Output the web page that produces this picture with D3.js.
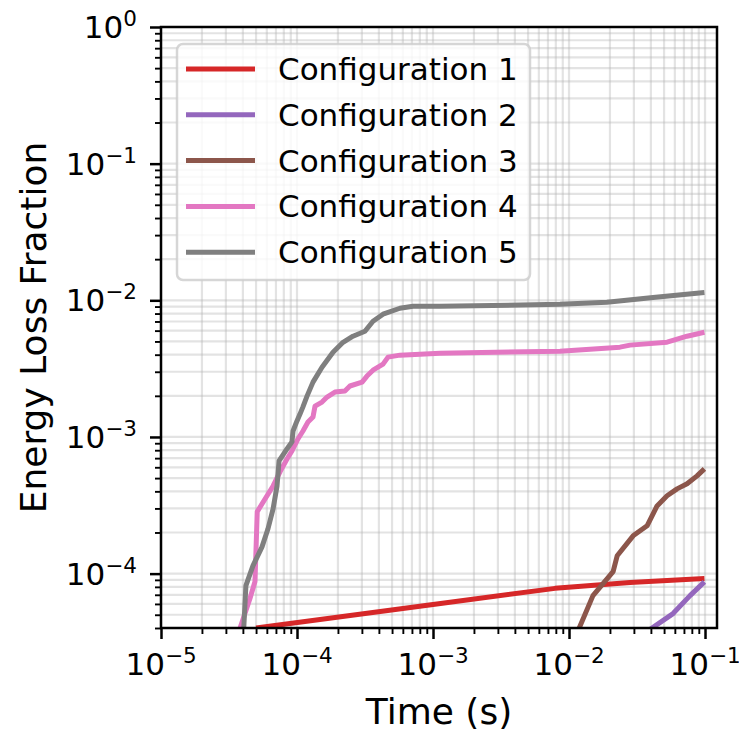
<!DOCTYPE html>
<html>
<head>
<meta charset="utf-8">
<script src="https://cdn.jsdelivr.net/npm/d3@7"></script>
<style>
  body { margin: 0; background: #fff; }
  text { font-family: "DejaVu Sans", sans-serif; fill: #000; }
</style>
</head>
<body>
<div id="chart"></div>
<script>
/* Data: time (s) and energy loss fraction */
let seriesNames = ["Configuration 1", "Configuration 2", "Configuration 3", "Configuration 4", "Configuration 5"];
let seriesColors = ["#d62728", "#9467bd", "#8c564b", "#e377c2", "#7f7f7f"];

let time1 = [5.0e-5, 1.0e-3, 7.9e-3, 2.81e-2, 9.9e-2];
let loss1 = [4.0e-5, 5.94e-5, 7.8e-5, 8.6e-5, 9.2e-5];

let time2 = [3.5e-2, 5.82e-2, 7.76e-2, 9.9e-2];
let loss2 = [3.6e-5, 5.1e-5, 6.9e-5, 8.7e-5];

let time3 = [1.15e-2, 1.50e-2, 2.11e-2, 2.26e-2, 2.96e-2, 3.75e-2, 4.44e-2, 5.26e-2, 6.23e-2, 7.38e-2, 8.74e-2, 9.9e-2];
let loss3 = [3.7e-5, 6.9e-5, 1.035e-4, 1.35e-4, 1.89e-4, 2.24e-4, 3.13e-4, 3.71e-4, 4.17e-4, 4.54e-4, 5.19e-4, 5.84e-4];

let time4 = [3.75e-5, 4.51e-5, 4.91e-5, 5.1e-5, 5.82e-5, 6.67e-5, 7.5e-5, 8.44e-5, 9.18e-5, 1.016e-4,
    1.106e-4, 1.204e-4, 1.311e-4, 1.356e-4, 1.527e-4, 1.663e-4, 1.90e-4, 2.25e-4, 2.45e-4, 3.01e-4,
    3.27e-4, 3.62e-4, 4.29e-4, 4.67e-4, 5.71e-4, 1.125e-3, 8.59e-3, 2.37e-2, 2.81e-2, 5.26e-2, 7.38e-2, 9.9e-2];
let loss4 = [3.8e-5, 6.57e-5, 8.75e-5, 2.84e-4, 3.52e-4, 4.38e-4, 5.55e-4, 6.9e-4, 7.9e-4, 9.67e-4,
    1.106e-3, 1.286e-3, 1.40e-3, 1.68e-3, 1.80e-3, 1.96e-3, 2.13e-3, 2.17e-3, 2.36e-3, 2.52e-3,
    2.79e-3, 3.08e-3, 3.41e-3, 3.84e-3, 3.97e-3, 4.10e-3, 4.24e-3, 4.54e-3, 4.70e-3, 4.94e-3, 5.46e-3, 5.84e-3];

let time5 = [4.05e-5, 4.21e-5, 4.74e-5, 5.53e-5, 6.12e-5, 6.67e-5, 7.13e-5, 7.38e-5, 8.44e-5, 9.18e-5,
    9.35e-5, 1.0e-4, 1.052e-4, 1.106e-4, 1.185e-4, 1.311e-4, 1.527e-4, 1.84e-4, 2.18e-4, 2.58e-4,
    3.16e-4, 3.62e-4, 4.29e-4, 5.71e-4, 7.13e-4, 1.125e-3, 8.59e-3, 1.90e-2, 4.15e-2, 9.9e-2];
let loss5 = [3.8e-5, 8.17e-5, 1.14e-4, 1.57e-4, 2.13e-4, 2.98e-4, 4.38e-4, 6.68e-4, 8.17e-4, 9.2e-4,
    1.106e-3, 1.31e-3, 1.47e-3, 1.66e-3, 1.99e-3, 2.52e-3, 3.24e-3, 4.17e-3, 4.93e-3, 5.46e-3,
    5.94e-3, 7.03e-3, 7.91e-3, 8.75e-3, 9.04e-3, 9.04e-3, 9.35e-3, 9.67e-3, 1.05e-2, 1.14e-2];

let xTickExp = [-5, -4, -3, -2, -1];
let yTickExp = [-4, -3, -2, -1, 0];

let allTimes = [time1, time2, time3, time4, time5];
let allLosses = [loss1, loss2, loss3, loss4, loss5];

/* Drawing configuration */
let svgWidth = 739;
let svgHeight = 734;
let plotLeft = 161, plotRight = 717, plotTop = 27, plotBottom = 628;

let svg = d3.select("#chart")
    .append("svg")
    .attr("width", svgWidth)
    .attr("height", svgHeight);

let xScale = d3.scaleLog()
    .domain([1e-5, 0.1225])
    .range([plotLeft, plotRight]);

let yScale = d3.scaleLog()
    .domain([4e-5, 1])
    .range([plotBottom, plotTop]);

let isMajor = v => Math.abs(Math.log10(v) - Math.round(Math.log10(v))) < 1e-9;
let xAll = xScale.ticks();
let yAll = yScale.ticks();
let xMinor = xAll.filter(v => !isMajor(v));
let yMinor = yAll.filter(v => !isMajor(v));
let xMajor = xTickExp.map(e => Math.pow(10, e));
let yMajor = yTickExp.map(e => Math.pow(10, e));

/* grid, major and minor */
let grid = svg.append("g")
    .attr("stroke", "#b0b0b0")
    .attr("stroke-opacity", 0.35)
    .attr("stroke-width", 2.2);

grid.selectAll(".vgrid")
    .data(xAll)
    .enter()
    .append("line")
    .attr("x1", d => xScale(d)).attr("x2", d => xScale(d))
    .attr("y1", plotTop).attr("y2", plotBottom);

grid.selectAll(".hgrid")
    .data(yAll)
    .enter()
    .append("line")
    .attr("y1", d => yScale(d)).attr("y2", d => yScale(d))
    .attr("x1", plotLeft).attr("x2", plotRight);

/* clip the curves to the axes box */
svg.append("clipPath")
    .attr("id", "plotClip")
    .append("rect")
    .attr("x", plotLeft).attr("y", plotTop)
    .attr("width", plotRight - plotLeft)
    .attr("height", plotBottom - plotTop);

let line = d3.line()
    .x(d => xScale(d[0]))
    .y(d => yScale(d[1]));

let curves = svg.append("g").attr("clip-path", "url(#plotClip)");

allTimes.forEach(function(times, i) {
    let pts = times.map((t, j) => [t, allLosses[i][j]]);
    curves.append("path")
        .datum(pts)
        .attr("d", line)
        .attr("fill", "none")
        .attr("stroke", seriesColors[i])
        .attr("stroke-width", 5)
        .attr("stroke-linejoin", "round");
});

/* axes: minor ticks, major ticks, spines */
let xAxisMinor = d3.axisBottom(xScale).tickValues(xMinor).tickSize(6).tickFormat("");
let xAxisMajor = d3.axisBottom(xScale).tickValues(xMajor).tickSize(11).tickFormat("");
let yAxisMinor = d3.axisLeft(yScale).tickValues(yMinor).tickSize(6).tickFormat("");
let yAxisMajor = d3.axisLeft(yScale).tickValues(yMajor).tickSize(11).tickFormat("");

function styleAxis(g, w) {
    g.select(".domain").remove();
    g.selectAll(".tick line").attr("stroke", "#000").attr("stroke-width", w);
}

svg.append("g").attr("transform", `translate(0,${plotBottom})`).call(xAxisMinor).call(g => styleAxis(g, 1.9));
svg.append("g").attr("transform", `translate(0,${plotBottom})`).call(xAxisMajor).call(g => styleAxis(g, 2.5));
svg.append("g").attr("transform", `translate(${plotLeft},0)`).call(yAxisMinor).call(g => styleAxis(g, 1.9));
svg.append("g").attr("transform", `translate(${plotLeft},0)`).call(yAxisMajor).call(g => styleAxis(g, 2.5));

svg.append("rect")
    .attr("x", plotLeft).attr("y", plotTop)
    .attr("width", plotRight - plotLeft)
    .attr("height", plotBottom - plotTop)
    .attr("fill", "none")
    .attr("stroke", "#000")
    .attr("stroke-width", 2.5);

/* tick labels as 10 with a superscript */
function powerLabel(sel, e) {
    sel.append("tspan").text("10");
    sel.append("tspan")
        .attr("dy", -12)
        .attr("font-size", 21.5)
        .text(e < 0 ? "\u2212" + (-e) : String(e));
}

xTickExp.forEach(function(e) {
    let t = svg.append("text")
        .attr("x", xScale(Math.pow(10, e)))
        .attr("y", 675)
        .attr("text-anchor", "middle")
        .attr("font-size", 31);
    powerLabel(t, e);
});

yTickExp.forEach(function(e) {
    let t = svg.append("text")
        .attr("x", 137)
        .attr("y", yScale(Math.pow(10, e)) + 11)
        .attr("text-anchor", "end")
        .attr("font-size", 31);
    powerLabel(t, e);
});

/* axis titles */
svg.append("text")
    .attr("x", (plotLeft + plotRight) / 2)
    .attr("y", 724)
    .attr("text-anchor", "middle")
    .attr("font-size", 36)
    .text("Time (s)");

svg.append("text")
    .attr("transform", `translate(46,${(plotTop + plotBottom) / 2}) rotate(-90)`)
    .attr("text-anchor", "middle")
    .attr("font-size", 36)
    .text("Energy Loss Fraction");

/* legend */
let legend = svg.append("g");
legend.append("rect")
    .attr("x", 177).attr("y", 44)
    .attr("width", 353).attr("height", 236)
    .attr("rx", 6).attr("ry", 6)
    .attr("fill", "#fff").attr("fill-opacity", 0.8)
    .attr("stroke", "#cccccc").attr("stroke-opacity", 0.8)
    .attr("stroke-width", 2.5);

seriesNames.forEach(function(name, i) {
    let ly = 69 + i * 45.8;
    legend.append("line")
        .attr("x1", 186).attr("x2", 255)
        .attr("y1", ly).attr("y2", ly)
        .attr("stroke", seriesColors[i])
        .attr("stroke-width", 5);
    legend.append("text")
        .attr("x", 278)
        .attr("y", ly + 11)
        .attr("font-size", 31)
        .text(name);
});
</script>
</body>
</html>
